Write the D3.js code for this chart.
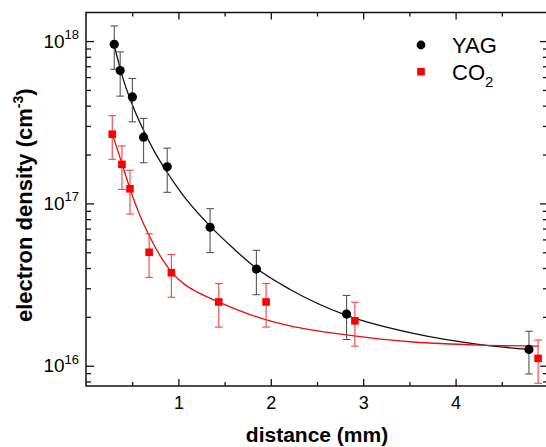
<!DOCTYPE html>
<html>
<head>
<meta charset="utf-8">
<script src="https://cdn.jsdelivr.net/npm/d3@7"></script>
<style>
  body { margin: 0; background: #fff; }
  svg { font-family: "Liberation Sans", Arial, sans-serif; }
</style>
</head>
<body>
<svg id="chart" width="546" height="447"></svg>
<script>
// YAG measurements (distance in mm, density in cm^-3, +/- error)
const yagDistance = [0.306, 0.370, 0.502, 0.623, 0.879, 1.343, 1.844, 2.820, 4.794];
const yagDensity = [9.55e17, 6.58e17, 4.53e17, 2.56e17, 1.68e17, 7.13e16, 3.94e16, 2.08e16, 1.26e16];
const yagError = [2.85e17, 2.0e17, 1.35e17, 7.8e16, 5.1e16, 2.15e16, 1.2e16, 6.3e15, 3.7e15];

// CO2 measurements
const co2Distance = [0.284, 0.389, 0.476, 0.683, 0.924, 1.437, 1.949, 2.910, 4.893];
const co2Density = [2.67e17, 1.74e17, 1.23e17, 5.0e16, 3.74e16, 2.47e16, 2.47e16, 1.89e16, 1.11e16];
const co2Error = [8.0e16, 5.2e16, 3.7e16, 1.5e16, 1.1e16, 7.4e15, 7.4e15, 5.7e15, 3.3e15];

// fitted curves
const yagFitDistance = [0.306, 0.4, 0.5, 0.623, 0.75, 0.879, 1.0, 1.09, 1.343, 1.6, 1.844, 2.209, 2.82, 3.543, 4.265, 4.794];
const yagFitDensity = [9.4e17, 5.89e17, 4.07e17, 2.82e17, 2.04e17, 1.55e17, 1.23e17, 1.05e17, 7.24e16, 5.25e16, 3.98e16, 2.95e16, 2.04e16, 1.58e16, 1.35e16, 1.26e16];
const co2FitDistance = [0.284, 0.389, 0.476, 0.58, 0.694, 0.81, 0.928, 1.07, 1.2, 1.451, 1.848, 2.209, 2.82, 3.543, 4.265, 4.897];
const co2FitDensity = [2.69e17, 1.76e17, 1.23e17, 8.51e16, 6.17e16, 4.68e16, 3.76e16, 3.16e16, 2.85e16, 2.45e16, 2.0e16, 1.76e16, 1.55e16, 1.40e16, 1.34e16, 1.32e16];

// axis ticks
const xMajorTicks = [1, 2, 3, 4];
const xMinorTicks = [0.5, 1.5, 2.5, 3.5, 4.5];
const yMajorExponents = [16, 17, 18];

const svg = d3.select("#chart");
const margin = { top: 12.5, right: -2, bottom: 61, left: 86 };
const width = 546 - margin.left - margin.right;
const height = 447 - margin.top - margin.bottom;

const x = d3.scaleLinear().domain([0, 5]).range([margin.left, margin.left + width]);
const y = d3.scaleLog().domain([7.5e15, 1.5e18]).range([margin.top + height, margin.top]);

// minor ticks on the log axis: 2..9 in each decade
const yMinorTicks = [];
[15, 16, 17].forEach(e => {
  for (let m = 2; m <= 9; m++) {
    const v = m * Math.pow(10, e);
    if (v >= y.domain()[0] && v <= y.domain()[1]) yMinorTicks.push(v);
  }
});

const axisColor = "#111";
const bottomY = margin.top + height;
const rightX = margin.left + width;

// ---- axes (ticks point inward) ----
function styleAxis(g) {
  g.select(".domain").remove();
  g.selectAll(".tick line").attr("stroke", axisColor).attr("stroke-width", 1.3);
}

svg.append("g")
  .attr("transform", `translate(0,${bottomY})`)
  .call(d3.axisBottom(x).tickValues(xMajorTicks).tickSize(-7).tickPadding(10).tickFormat(d3.format("d")))
  .call(styleAxis)
  .call(g => g.selectAll("text").attr("font-size", 18).attr("fill", "#000").attr("font-family", null));
svg.append("g")
  .attr("transform", `translate(0,${bottomY})`)
  .call(d3.axisBottom(x).tickValues(xMinorTicks).tickSize(-4).tickFormat(""))
  .call(styleAxis);
svg.append("g")
  .attr("transform", `translate(0,${margin.top})`)
  .call(d3.axisTop(x).tickValues(xMajorTicks).tickSize(-7).tickFormat(""))
  .call(styleAxis);
svg.append("g")
  .attr("transform", `translate(0,${margin.top})`)
  .call(d3.axisTop(x).tickValues(xMinorTicks).tickSize(-4).tickFormat(""))
  .call(styleAxis);

const yMajor = yMajorExponents.map(e => Math.pow(10, e));
svg.append("g")
  .attr("transform", `translate(${margin.left},0)`)
  .call(d3.axisLeft(y).tickValues(yMajor).tickSize(-8).tickFormat(""))
  .call(styleAxis);
svg.append("g")
  .attr("transform", `translate(${margin.left},0)`)
  .call(d3.axisLeft(y).tickValues(yMinorTicks).tickSize(-5).tickFormat(""))
  .call(styleAxis);
svg.append("g")
  .attr("transform", `translate(${rightX},0)`)
  .call(d3.axisRight(y).tickValues(yMajor).tickSize(-8).tickFormat(""))
  .call(styleAxis);
svg.append("g")
  .attr("transform", `translate(${rightX},0)`)
  .call(d3.axisRight(y).tickValues(yMinorTicks).tickSize(-5).tickFormat(""))
  .call(styleAxis);

// frame
svg.append("rect")
  .attr("x", margin.left)
  .attr("y", margin.top)
  .attr("width", width)
  .attr("height", height)
  .attr("fill", "none")
  .attr("stroke", axisColor)
  .attr("stroke-width", 1.5);

// y tick labels 10^n
const yLabels = svg.append("g")
  .selectAll("text")
  .data(yMajorExponents)
  .enter()
  .append("text")
  .attr("x", margin.left - 7)
  .attr("y", d => y(Math.pow(10, d)) + 6.5)
  .attr("text-anchor", "end")
  .attr("fill", "#000");
yLabels.append("tspan").attr("font-size", 19).text("10");
yLabels.append("tspan").attr("font-size", 13).attr("dy", -8.5).text(d => d);

// axis titles
svg.append("text")
  .attr("x", (margin.left + rightX) / 2)
  .attr("y", 442)
  .attr("text-anchor", "middle")
  .attr("font-size", 21)
  .attr("font-weight", "bold")
  .text("distance (mm)");

const yTitle = svg.append("text")
  .attr("transform", `translate(32,${(margin.top + bottomY) / 2 + 6}) rotate(-90)`)
  .attr("text-anchor", "middle")
  .attr("font-size", 22)
  .attr("font-weight", "bold");
yTitle.append("tspan").text("electron density (cm");
yTitle.append("tspan").attr("font-size", 14).attr("dy", -9).text("-3");
yTitle.append("tspan").attr("dy", 9).text(")");

// ---- fit curves ----
const line = d3.line()
  .x(d => x(d[0]))
  .y(d => y(d[1]))
  .curve(d3.curveMonotoneX);

svg.append("path")
  .datum(yagFitDistance.map((d, i) => [d, yagFitDensity[i]]))
  .attr("fill", "none")
  .attr("stroke", "#111")
  .attr("stroke-width", 1.3)
  .attr("d", line);

svg.append("path")
  .datum(co2FitDistance.map((d, i) => [d, co2FitDensity[i]]))
  .attr("fill", "none")
  .attr("stroke", "#e8100e")
  .attr("stroke-width", 1.3)
  .attr("d", line);

// ---- error bars ----
function drawErrorBars(dist, dens, err, color) {
  const rows = dist.map((d, i) => ({ x: d, y: dens[i], e: err[i] }));
  const g = svg.append("g").attr("stroke", color).attr("stroke-width", 1.1).attr("fill", "none");
  const cap = 3.8;
  rows.forEach(r => {
    const cx = x(r.x);
    const y1 = y(r.y + r.e);
    const y2 = y(r.y - r.e);
    g.append("line").attr("x1", cx).attr("x2", cx).attr("y1", y1).attr("y2", y2);
    g.append("line").attr("x1", cx - cap).attr("x2", cx + cap).attr("y1", y1).attr("y2", y1);
    g.append("line").attr("x1", cx - cap).attr("x2", cx + cap).attr("y1", y2).attr("y2", y2);
  });
  return rows;
}

const yagRows = drawErrorBars(yagDistance, yagDensity, yagError, "#555");
const co2Rows = drawErrorBars(co2Distance, co2Density, co2Error, "#ee4444");

// ---- markers ----
svg.append("g")
  .selectAll("circle")
  .data(yagRows)
  .enter()
  .append("circle")
  .attr("cx", d => x(d.x))
  .attr("cy", d => y(d.y))
  .attr("r", 4.6)
  .attr("fill", "#000");

const sq = 7.6;
svg.append("g")
  .selectAll("rect")
  .data(co2Rows)
  .enter()
  .append("rect")
  .attr("x", d => x(d.x) - sq / 2)
  .attr("y", d => y(d.y) - sq / 2)
  .attr("width", sq)
  .attr("height", sq)
  .attr("fill", "#ff0000");

// ---- legend ----
const legend = svg.append("g");
legend.append("circle").attr("cx", 421).attr("cy", 45).attr("r", 4.4).attr("fill", "#000");
legend.append("text").attr("x", 452).attr("y", 53).attr("font-size", 22).text("YAG");
legend.append("rect").attr("x", 421 - sq / 2).attr("y", 71.7 - sq / 2).attr("width", sq).attr("height", sq).attr("fill", "#ff0000");
const co2Label = legend.append("text").attr("x", 452).attr("y", 80).attr("font-size", 22);
co2Label.append("tspan").text("CO");
co2Label.append("tspan").attr("font-size", 15).attr("dy", 7).text("2");
</script>
</body>
</html>
